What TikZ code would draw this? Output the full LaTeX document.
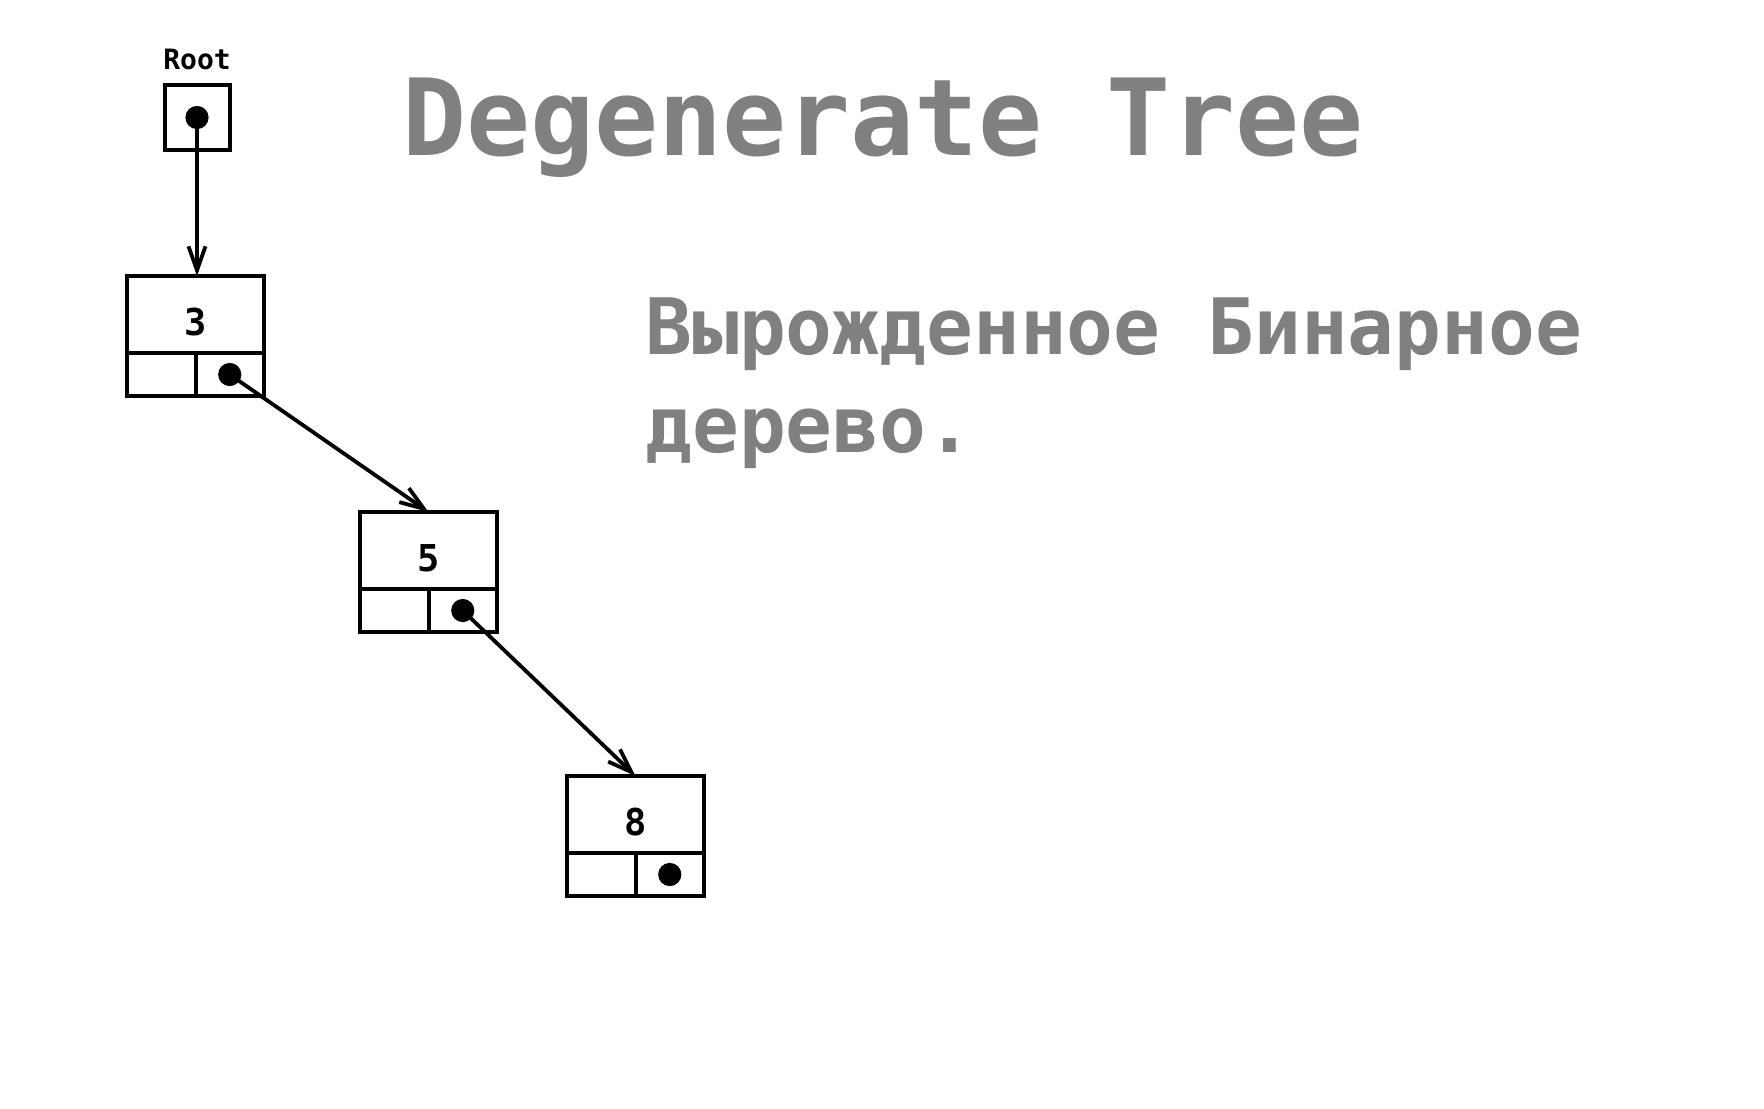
\documentclass[tikz,border=0pt]{standalone}
\usepackage{fontspec}
\setmonofont{DejaVu Sans Mono}
\usetikzlibrary{arrows.meta}
\definecolor{titlegray}{RGB}{128,128,128}

\tikzset{
  valbox/.style={draw, line width=2pt, minimum width=68.5pt, minimum height=38.5pt,
    inner sep=0pt, outer sep=0pt, anchor=north west, text height=20.5pt, text depth=0pt,
    font=\ttfamily\bfseries\fontsize{18.5}{20}\selectfont},
  cellbox/.style={draw, line width=2pt, minimum width=34.25pt, minimum height=21.5pt,
    inner sep=0pt, outer sep=0pt, anchor=north west},
  ptr/.style={line width=1.9pt, -{Straight Barb[length=12pt,width=8.5pt,line width=1.9pt]}},
  graytext/.style={text=titlegray, inner sep=0pt, anchor=base west}
}

\begin{document}
\begin{tikzpicture}[x=0.5pt,y=-0.5pt]

\useasboundingbox (0,0) rectangle (1764,1108);

% root pointer
\node[font=\ttfamily\bfseries\fontsize{14}{16}\selectfont] (rootlabel) at (197,59) {Root};
\node[draw, line width=2pt, minimum size=32.5pt, inner sep=0pt, outer sep=0pt] (root) at (197,117.5) {};
\fill (root.center) circle (5.8pt);

% tree nodes
\foreach \v/\x/\y in {3/127/276, 5/360/512, 8/567/776} {
  \node[valbox] (n\v) at (\x,\y) {\v};
  \node[cellbox] (l\v) at (n\v.south west) {};
  \node[cellbox] (r\v) at (l\v.north east) {};
  \fill (r\v.center) circle (5.8pt);
}

\draw[ptr] (root.center) -- (root.center |- n3.north);
\draw[ptr] (r3.center) -- (n5.north);
\draw[ptr] (r5.center) -- (n8.north);

% captions
\node[graytext, font=\ttfamily\bfseries\fontsize{53.2}{60}\selectfont] (title) at (402,155) {Degenerate Tree};
\node[graytext, align=left, font=\ttfamily\bfseries\fontsize{38.9}{49}\selectfont] (subtitle) at (645,452)
  {Вырожденное Бинарное\\дерево.};

\end{tikzpicture}
\end{document}
